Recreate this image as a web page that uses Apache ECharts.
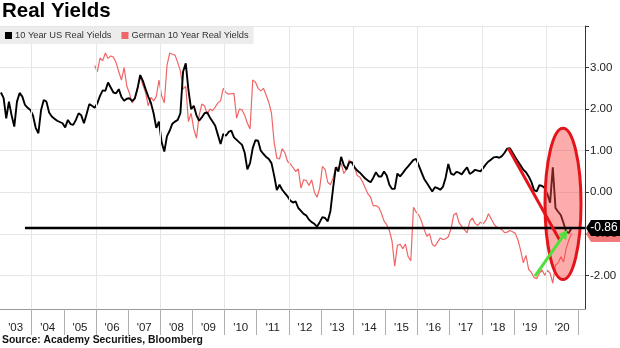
<!DOCTYPE html>
<html>
<head>
<meta charset="utf-8">
<script src="https://cdn.jsdelivr.net/npm/echarts@6/dist/echarts.min.js"></script>
<style>
  html, body { margin: 0; padding: 0; background: #fff; }
  #chart { width: 620px; height: 348px; }
</style>
</head>
<body>
<div id="chart"></div>
<script>
// ---- data -------------------------------------------------------------
const chartTitle = 'Real Yields';
const sourceNote = 'Source: Academy Securities, Bloomberg';
const seriesNames = ['10 Year US Real Yields', 'German 10 Year Real Yields'];

// Monthly readings (mid-month), first value = January 2003
const usStart = [2003, 1];
const usValues = [
  2.40, 2.27, 1.78, 2.18, 1.85, 1.58, 2.18, 2.39, 2.30, 2.10,
  2.03, 1.98, 1.84, 1.55, 1.42, 1.98, 2.22, 2.18, 1.92, 1.82,
  1.77, 1.72, 1.69, 1.66, 1.56, 1.74, 1.64, 1.62, 1.74, 1.90,
  1.85, 1.66, 1.88, 2.12, 2.08, 2.03, 2.14, 2.32, 2.45, 2.44,
  2.64, 2.52, 2.40, 2.38, 2.48, 2.29, 2.20, 2.25, 2.26, 2.19,
  2.26, 2.50, 2.82, 2.68, 2.48, 2.30, 2.15, 1.90, 1.55, 1.70,
  1.20, 0.98, 1.35, 1.48, 1.65, 1.70, 1.74, 1.90, 2.90, 3.10,
  2.46, 2.00, 2.08, 1.85, 1.72, 1.80, 1.90, 1.92, 1.80, 1.70,
  1.60, 1.38, 1.16, 1.40, 1.36, 1.45, 1.48, 1.32, 1.26, 1.20,
  1.14, 0.95, 0.55, 0.70, 1.06, 1.25, 1.24, 1.00, 0.92, 0.85,
  0.80, 0.70, 0.40, 0.05, 0.18, 0.06, -0.02, -0.10, -0.20, -0.25,
  -0.22, -0.38, -0.45, -0.52, -0.56, -0.66, -0.72, -0.76, -0.83, -0.72,
  -0.60, -0.62, -0.70, -0.45, 0.10, 0.60, 0.50, 0.85, 0.65, 0.55,
  0.72, 0.72, 0.60, 0.52, 0.47, 0.40, 0.33, 0.28, 0.24, 0.35,
  0.48, 0.38, 0.38, 0.50, 0.40, 0.18, 0.08, 0.08, 0.45, 0.38,
  0.46, 0.55, 0.62, 0.70, 0.78, 0.80, 0.64, 0.48, 0.32, 0.22,
  0.12, 0.02, 0.12, 0.10, 0.06, 0.13, 0.35, 0.68, 0.45, 0.42,
  0.49, 0.47, 0.43, 0.52, 0.60, 0.44, 0.48, 0.54, 0.52, 0.50,
  0.58, 0.67, 0.74, 0.79, 0.84, 0.85, 0.83, 0.87, 0.95, 1.05,
  1.06, 0.95, 0.84, 0.74, 0.64, 0.54, 0.48, 0.38, 0.25, 0.05,
  0.02, 0.17, 0.15, 0.10, -0.05, -0.25, 0.60, -0.38, -0.47, -0.55,
  -0.74, -0.95, -0.98, -0.86
];

// Monthly readings (mid-month), first value = December 2005
const deStart = [2005, 12];
const deValues = [
  3.05, 2.90, 3.23, 3.16, 3.35, 3.22, 3.28, 3.25, 3.12, 2.90,
  2.70, 3.00, 2.55, 2.38, 2.15, 2.25, 2.48, 2.78, 2.58, 2.40,
  2.08, 2.28, 2.20, 2.30, 2.70, 2.32, 2.15, 3.05, 3.35, 3.32,
  3.30, 3.12, 2.92, 2.48, 2.55, 1.70, 1.90, 1.52, 1.30, 1.85,
  2.12, 2.08, 1.88, 2.00, 1.96, 2.05, 2.15, 2.20, 2.50, 2.40,
  2.36, 2.37, 2.38, 1.78, 2.00, 1.98, 1.85, 1.66, 1.52, 2.70,
  2.65, 2.50, 2.44, 2.50, 2.34, 2.16, 1.90, 1.20, 0.82, 0.80,
  1.05, 0.95, 0.74, 0.68, 0.60, 0.50, 0.56, 0.10, 0.30, 0.28,
  0.16, 0.30, 0.00, -0.12, 0.10, 0.62, 0.55, 0.24, 0.18, 0.34,
  0.60, 0.60, 0.70, 0.45, 0.55, 0.78, 0.70, 0.60, 0.40, 0.36,
  0.25, 0.10, -0.04, -0.12, -0.33, -0.32, -0.36, -0.50, -0.69, -0.78,
  -0.92, -1.18, -1.78, -1.28, -1.25, -1.36, -1.25, -1.55, -1.65, -0.36,
  -0.48, -0.55, -0.70, -0.90, -1.06, -1.00, -1.25, -1.30, -1.20, -1.10,
  -1.14, -1.12, -1.07, -0.88, -0.55, -0.50, -0.73, -0.82, -0.90, -0.98,
  -0.70, -0.62, -0.75, -0.80, -0.72, -0.76, -0.68, -0.52, -0.64, -0.76,
  -0.84, -0.86, -0.90, -0.97, -0.96, -0.92, -0.95, -0.99, -1.15, -1.40,
  -1.70, -1.52, -1.86, -1.93, -2.05, -2.08, -1.95, -1.87, -2.00, -1.88,
  -1.95, -2.19, -1.75, -1.70, -1.55, -1.68, -1.35, -1.15, -0.99
];

// Axis ticks / labels
const yearTicks = [2004, 2005, 2006, 2007, 2008, 2009, 2010, 2011, 2012,
                   2013, 2014, 2015, 2016, 2017, 2018, 2019, 2020, 2021];
const yearLabels = [2003, 2004, 2005, 2006, 2007, 2008, 2009, 2010, 2011,
                    2012, 2013, 2014, 2015, 2016, 2017, 2018, 2019, 2020];
const gridYears = [2004, 2006, 2008, 2010, 2012, 2014, 2016, 2018, 2020];
const yTicks = [-2, -1, 0, 1, 2, 3, 4];
const yLabels = [-2, 0, 1, 2, 3];
const xRange = [2003.014, 2021.21];
const yRange = [-2.81, 4.0];

// Hand-drawn annotations, in data units (decimal year, percent)
const levelLineStart = 2003.79;
const trendDown = [[2018.825, 1.06], [2020.433, -1.17]];
const trendUp = [[2019.655, -2.02], [2020.66, -0.91]];
const focusEllipse = { center: [2020.526, -0.28], halfYears: 0.56, halfPct: 1.82 };

// ---- helpers ----------------------------------------------------------
function toSeries(start, values) {
  return values.map(function (v, i) {
    return [start[0] + (start[1] - 1 + i + 0.5) / 12, v];
  });
}
const usLast = usValues[usValues.length - 1];
const deLast = deValues[deValues.length - 1];

const FONT = 'Liberation Sans, Arial, sans-serif';
const GRID_GREY = '#e6e6e6';
const chart = echarts.init(document.getElementById('chart'), null, { renderer: 'canvas' });

const option = {
  animation: false,
  backgroundColor: '#ffffff',
  title: [
    { text: chartTitle, left: 2, top: 1, padding: 0,
      textStyle: { fontFamily: FONT, fontSize: 20.5, fontWeight: 'bold', color: '#000' } },
    { text: sourceNote, left: 2, top: 335, padding: 0,
      textStyle: { fontFamily: FONT, fontSize: 10.4, fontWeight: 'bold', color: '#111' } }
  ],
  legend: {
    left: 0, top: 27, padding: [4, 5, 4, 5], z: 10,
    backgroundColor: '#ececec',
    itemWidth: 7, itemHeight: 7, itemGap: 10, icon: 'rect',
    textStyle: { fontFamily: FONT, fontSize: 9.3, color: '#333', padding: [0, 0, 0, -2] },
    data: seriesNames
  },
  grid: { left: 0, right: 35, top: 26, bottom: 39, containLabel: false },
  xAxis: {
    type: 'value', min: xRange[0], max: xRange[1],
    axisLine: { show: true, onZero: false, lineStyle: { color: '#9a9a9a', width: 1 } },
    axisTick: { show: true, customValues: yearTicks, length: 26, lineStyle: { color: '#b0b0b0' } },
    axisLabel: {
      customValues: yearLabels.map(function (y) { return y + 0.5; }),
      formatter: function (v) { return "'" + String(Math.floor(v)).slice(2); },
      fontFamily: FONT, fontSize: 11.5, color: '#222', margin: 13
    },
    splitLine: { show: false }
  },
  yAxis: {
    type: 'value', position: 'right', min: yRange[0], max: yRange[1],
    axisLine: { show: true, onZero: false, lineStyle: { color: '#333', width: 1 } },
    axisTick: { show: true, customValues: yTicks, length: 4, lineStyle: { color: '#333' } },
    axisLabel: {
      customValues: yLabels,
      formatter: function (v) { return v.toFixed(2); },
      fontFamily: FONT, fontSize: 11.5, color: '#222', margin: 5
    },
    splitLine: { show: true, lineStyle: { color: GRID_GREY, width: 1 } }
  },
  series: [
    {
      // vertical grid every second year
      name: 'grid', type: 'line', data: [], z: 1, silent: true,
      markLine: {
        silent: true, symbol: 'none', label: { show: false },
        lineStyle: { color: GRID_GREY, width: 1, type: 'solid' },
        data: gridYears.map(function (y) { return { xAxis: y }; })
      }
    },
    {
      name: seriesNames[0], type: 'line',
      data: toSeries(usStart, usValues),
      showSymbol: false, symbol: 'none', z: 4,
      lineStyle: { color: '#000', width: 1.9 },
      itemStyle: { color: '#000' }
    },
    {
      name: seriesNames[1], type: 'line',
      data: toSeries(deStart, deValues),
      showSymbol: false, symbol: 'none', z: 3,
      lineStyle: { color: '#f06666', width: 1.2 },
      itemStyle: { color: '#f06666' }
    }
  ]
};
chart.setOption(option);

// ---- annotations ------------------------------------------------------
function px(pt) { return chart.convertToPixel({ xAxisIndex: 0, yAxisIndex: 0 }, pt); }

const axisX = px([xRange[1], 0])[0];
const levelA = px([levelLineStart, usLast]);
const levelB = px([xRange[1], usLast]);
const dA = px(trendDown[0]), dB = px(trendDown[1]);
const uA = px(trendUp[0]), uB = px(trendUp[1]);
const eC = px(focusEllipse.center);
const eX = px([focusEllipse.center[0] + focusEllipse.halfYears, focusEllipse.center[1]]);
const eY = px([focusEllipse.center[0], focusEllipse.center[1] + focusEllipse.halfPct]);

function tag(yc, fill, textColor, text, z) {
  const h = 16;
  return {
    type: 'group', z: z,
    children: [
      { type: 'polygon', z: z,
        shape: { points: [[axisX + 1, yc], [axisX + 6, yc - h / 2], [620, yc - h / 2],
                          [620, yc + h / 2], [axisX + 6, yc + h / 2]] },
        style: { fill: fill } },
      { type: 'text', z: z + 1, x: 604, y: yc,
        style: { text: text, fill: textColor, align: 'center', verticalAlign: 'middle',
                 font: '12px ' + FONT } }
    ]
  };
}

// head of the green arrow
const ang = Math.atan2(uB[1] - uA[1], uB[0] - uA[0]);
const headLen = 9, headW = 5;
const tip = uB;
const base = [tip[0] - headLen * Math.cos(ang), tip[1] - headLen * Math.sin(ang)];
const head = [
  tip,
  [base[0] + headW * Math.sin(ang), base[1] - headW * Math.cos(ang)],
  [base[0] - headW * Math.sin(ang), base[1] + headW * Math.cos(ang)]
];

const deTagY = Math.max(px([xRange[1], deLast])[1], levelB[1] + 6);

chart.setOption({
  graphic: [
    { type: 'ellipse', z: 20,
      shape: { cx: eC[0], cy: eC[1], rx: Math.abs(eX[0] - eC[0]), ry: Math.abs(eY[1] - eC[1]) },
      style: { fill: 'rgba(250, 70, 70, 0.45)', stroke: '#e3141a', lineWidth: 3 } },
    { type: 'line', z: 21,
      shape: { x1: levelA[0], y1: levelA[1], x2: levelB[0], y2: levelB[1] },
      style: { stroke: '#000', lineWidth: 2.6 } },
    { type: 'line', z: 22,
      shape: { x1: dA[0], y1: dA[1], x2: dB[0], y2: dB[1] },
      style: { stroke: '#e3141a', lineWidth: 3 } },
    { type: 'line', z: 23,
      shape: { x1: uA[0], y1: uA[1], x2: base[0], y2: base[1] },
      style: { stroke: '#4fe03a', lineWidth: 3 } },
    { type: 'polygon', z: 23, shape: { points: head }, style: { fill: '#4fe03a' } },
    tag(deTagY, '#f07a7a', '#5a1a1a', deLast.toFixed(2), 30),
    tag(levelB[1], '#000', '#fff', usLast.toFixed(2), 40)
  ]
});
</script>
</body>
</html>
